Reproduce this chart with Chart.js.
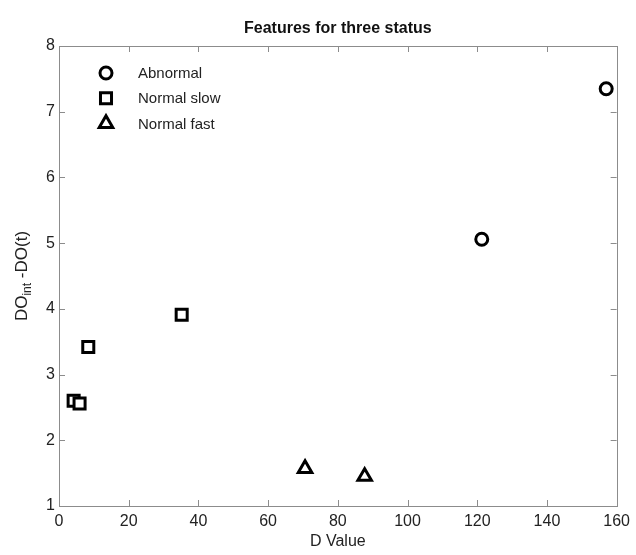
<html>
<head>
	<title>Features for three status</title>
	<script src="https://cdn.jsdelivr.net/npm/chart.js@4"></script>
	<meta charset="UTF-8">
	<style>
	  body { margin: 0; background: #fff; }
	  #wrap { width: 636px; height: 555px; }
	</style>
</head>
<body>
  <div id="wrap"><canvas id="features-chart" width="636" height="555"></canvas></div>

  <script>
    // data
    const seriesNames = ["Abnormal", "Normal slow", "Normal fast"];
    const abnormalX = [121.3, 157];
    const abnormalY = [5.06, 7.35];
    const slowX = [4.2, 5.9, 8.4, 35.2];
    const slowY = [2.60, 2.56, 3.42, 3.91];
    const fastX = [70.6, 87.7];
    const fastY = [1.57, 1.45];
    const xTicks = [0, 20, 40, 60, 80, 100, 120, 140, 160];
    const yTicks = [1, 2, 3, 4, 5, 6, 7, 8];

    function pts(xs, ys) {
      return xs.map((x, i) => ({ x: x, y: ys[i] }));
    }

    const FONT = "'Liberation Sans', Arial, sans-serif";
    const axisGray = "#8c8c8c";

    // ticks pointing inward on all four sides, like the original
    const inwardTicks = {
      id: "inwardTicks",
      afterDraw(chart) {
        const ctx = chart.ctx, a = chart.chartArea;
        const xs = chart.scales.x, ys = chart.scales.y;
        ctx.save();
        ctx.strokeStyle = axisGray;
        ctx.lineWidth = 1;
        ctx.beginPath();
        xTicks.forEach(v => {
          const p = Math.round(xs.getPixelForValue(v)) + 0.5;
          ctx.moveTo(p, a.bottom); ctx.lineTo(p, a.bottom - 6);
          ctx.moveTo(p, a.top); ctx.lineTo(p, a.top + 6);
        });
        yTicks.forEach(v => {
          const p = Math.round(ys.getPixelForValue(v)) + 0.5;
          ctx.moveTo(a.left, p); ctx.lineTo(a.left + 6, p);
          ctx.moveTo(a.right, p); ctx.lineTo(a.right - 6, p);
        });
        ctx.stroke();
        ctx.strokeRect(Math.round(a.left) + 0.5, Math.round(a.top) + 0.5,
          Math.round(a.right - a.left), Math.round(a.bottom - a.top));
        ctx.restore();
      }
    };

    // title, y label with subscript and legend inside the plot
    const extras = {
      id: "extras",
      afterDraw(chart) {
        const ctx = chart.ctx, a = chart.chartArea;
        ctx.save();
        ctx.fillStyle = "#111";
        ctx.font = "bold 16px " + FONT;
        ctx.textAlign = "center";
        ctx.textBaseline = "middle";
        ctx.fillText("Features for three status", (a.left + a.right) / 2, 29);

        // y axis title
        ctx.save();
        ctx.translate(21, (a.top + a.bottom) / 2);
        ctx.rotate(-Math.PI / 2);
        const big = "17px " + FONT, small = "12px " + FONT;
        ctx.font = big; const w1 = ctx.measureText("DO").width;
        ctx.font = small; const w2 = ctx.measureText("int").width;
        ctx.font = big; const w3 = ctx.measureText(" -DO(t)").width;
        let x0 = -(w1 + w2 + w3) / 2;
        ctx.textAlign = "left";
        ctx.textBaseline = "alphabetic";
        ctx.fillStyle = "#222";
        ctx.font = big; ctx.fillText("DO", x0, 6);
        ctx.font = small; ctx.fillText("int", x0 + w1, 10);
        ctx.font = big; ctx.fillText(" -DO(t)", x0 + w1 + w2, 6);
        ctx.restore();

        // legend
        chart.data.datasets.forEach((ds, i) => {
          const y = 73 + i * 25.3;
          ctx.lineWidth = 3;
          ctx.strokeStyle = "#000";
          ctx.fillStyle = "#fff";
          Chart.helpers.drawPoint(ctx, {
            pointStyle: ds.pointStyle, radius: ds.pointRadius, rotation: 0, borderWidth: 3
          }, 106, y);
          ctx.fillStyle = "#222";
          ctx.font = "15px " + FONT;
          ctx.textAlign = "left";
          ctx.textBaseline = "middle";
          ctx.fillText(ds.label, 138, y + 1);
        });
        ctx.restore();
      }
    };

    const baseSet = {
      showLine: false,
      backgroundColor: "#fff",
      borderColor: "#000",
      pointBorderWidth: 3,
      pointBackgroundColor: "#fff",
      pointBorderColor: "#000"
    };

    new Chart(document.getElementById("features-chart"), {
      type: "scatter",
      data: {
        datasets: [
          Object.assign({}, baseSet, { label: seriesNames[0], data: pts(abnormalX, abnormalY), pointStyle: "circle", pointRadius: 6 }),
          Object.assign({}, baseSet, { label: seriesNames[1], data: pts(slowX, slowY), pointStyle: "rect", pointRadius: 7.8 }),
          Object.assign({}, baseSet, { label: seriesNames[2], data: pts(fastX, fastY), pointStyle: "triangle", pointRadius: 7.8 })
        ]
      },
      options: {
        responsive: false,
        animation: false,
        layout: { padding: { top: 46, right: 14, left: 0, bottom: 0 } },
        plugins: {
          legend: { display: false },
          tooltip: { enabled: false }
        },
        scales: {
          x: {
            type: "linear",
            min: 0, max: 160,
            afterBuildTicks: s => { s.ticks = xTicks.map(v => ({ value: v })); },
            afterFit: s => { s.height = 49; },
            grid: { display: false, drawTicks: false },
            border: { display: false },
            ticks: { color: "#222", font: { family: FONT, size: 16 }, padding: 6, maxRotation: 0 },
            title: { display: true, text: "D Value", color: "#222", font: { family: FONT, size: 16 }, padding: { top: 0, bottom: 4 } }
          },
          y: {
            type: "linear",
            min: 1, max: 8,
            afterBuildTicks: s => { s.ticks = yTicks.map(v => ({ value: v })); },
            afterFit: s => { s.width = 59; },
            grid: { display: false, drawTicks: false },
            border: { display: false },
            ticks: { color: "#222", font: { family: FONT, size: 16 }, padding: 4 }
          }
        }
      },
      plugins: [inwardTicks, extras]
    });
  </script>
</body>
</html>
